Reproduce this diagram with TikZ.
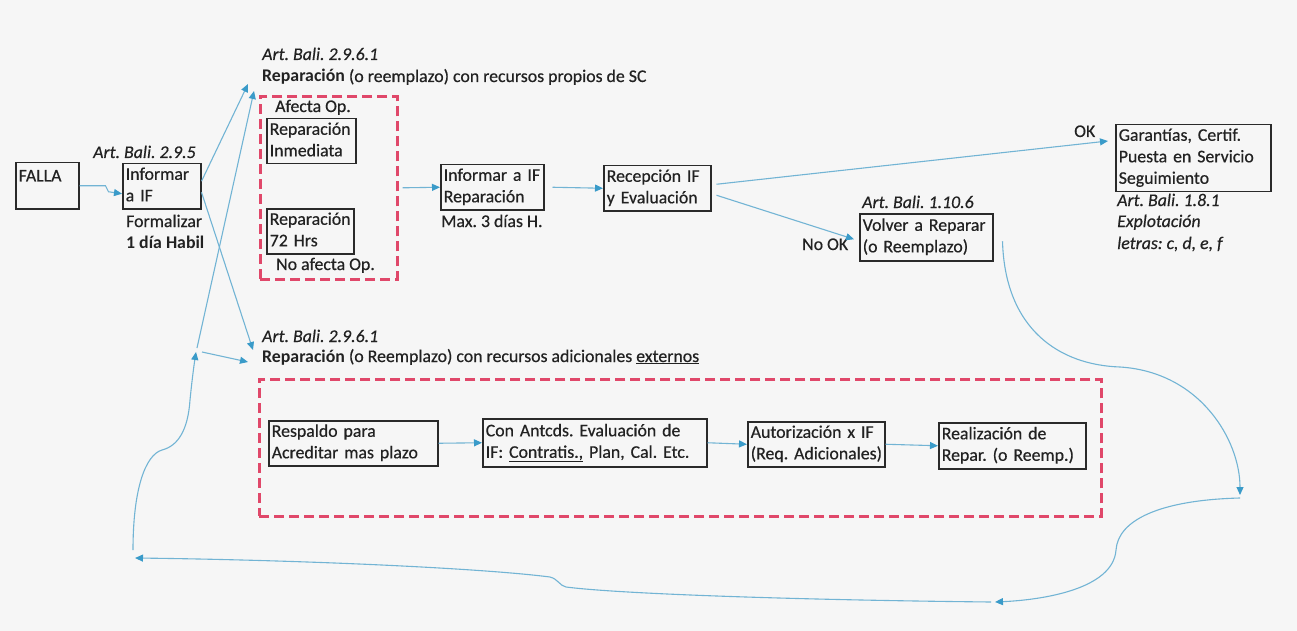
\documentclass[tikz,border=0pt]{standalone}
\usepackage{fontspec}
\setmainfont{Carlito}[UprightFeatures={FakeBold=0.5},ItalicFeatures={FakeBold=0.5}]
\usetikzlibrary{arrows.meta}
\definecolor{bg}{HTML}{F6F6F6}
\definecolor{txt}{HTML}{222222}
\definecolor{boxc}{HTML}{2A2A2A}
\definecolor{arrc}{HTML}{72B4D4}
\definecolor{arrh}{HTML}{3A9BC9}
\definecolor{dred}{HTML}{E0486A}
\newcommand{\boxlines}[1]{\begin{tabular}{@{}l@{}}#1\end{tabular}}
\frenchspacing
\tikzset{
  lbl/.style={font=\fontsize{17.8}{21.5}\selectfont, text=txt, inner sep=0pt, anchor=base west},
  box/.style={draw=boxc, line width=1.5pt, font=\fontsize{17.8}{21.5}\selectfont, text=txt,
              align=left, inner xsep=3pt, inner ysep=1pt, anchor=north west},
  dbox/.style={draw=dred, line width=2.6pt, dash pattern=on 10pt off 5pt,
               anchor=north west, inner sep=0pt},
  conn/.style={draw=arrc, line width=1.1pt,
               -{Triangle[length=8pt,width=7pt,fill=arrh,color=arrh]}},
}
\begin{document}
\begin{tikzpicture}[x=1pt,y=-1pt]
\fill[bg] (0,0) rectangle (1297,631);
\useasboundingbox (0,0) rectangle (1297,631);

% dashed groups
\node[dbox, minimum width=137pt, minimum height=183pt] (tdash) at (259,95) {};
\node[dbox, minimum width=842pt, minimum height=137pt] (bdash) at (258,378) {};

% boxes
\node[box, text width=57pt, minimum height=46pt, text depth=20pt] (falla) at (15,162) {FALLA};
\node[box, text width=72pt, minimum height=41pt] (inf) at (122,163) {\boxlines{Informar\\a IF}};
\node[box, text width=83pt, minimum height=45pt] (inm) at (266,118) {\boxlines{Reparación\\Inmediata}};
\node[box, text width=81pt, minimum height=43pt] (h72) at (266,208) {\boxlines{Reparación\\72 Hrs}};
\node[box, text width=97pt, minimum height=44pt] (infrep) at (440,164) {\boxlines{Informar a IF\\Reparación}};
\node[box, text width=101pt, minimum height=45pt] (recep) at (603,165) {\boxlines{Recepción IF\\y Evaluación}};
\node[box, text width=127pt, minimum height=47pt] (volver) at (859,213) {\boxlines{Volver a Reparar\\(o Reemplazo)}};
\node[box, text width=149pt, minimum height=66pt] (gar) at (1115,124) {\boxlines{Garantías, Certif.\\Puesta en Servicio\\Seguimiento}};
\node[box, text width=163pt, minimum height=45pt] (resp) at (268,420) {\boxlines{Respaldo para\\Acreditar mas plazo}};
\node[box, text width=218pt, minimum height=48pt] (antc) at (482,418) {\boxlines{Con Antcds. Evaluación de\\IF: \underline{Contratis.,} Plan, Cal. Etc.}};
\node[box, text width=131pt, minimum height=44pt] (aut) at (747,421) {\boxlines{Autorización x IF\\(Req. Adicionales)}};
\node[box, text width=141pt, minimum height=46pt] (real) at (938,422) {\boxlines{Realización de\\Repar. (o Reemp.)}};

% labels
\node[lbl] (a295) at (93,158) {\textit{Art. Bali. 2.9.5}};
\node[lbl] (form) at (126,227) {Formalizar};
\node[lbl] (dia) at (126,248) {\textbf{1 día Habil}};
\node[lbl] (a2961a) at (262,60) {\textit{Art. Bali. 2.9.6.1}};
\node[lbl] (rep1) at (262,82) {\textbf{Reparación} (o reemplazo) con recursos propios de SC};
\node[lbl] (afecta) at (275,112) {Afecta Op.};
\node[lbl] (noaf) at (276,270) {No afecta Op.};
\node[lbl] (max3) at (441,227) {Max. 3 días H.};
\node[lbl] (ok) at (1074,137) {OK};
\node[lbl] (nook) at (802,250) {No OK};
\node[lbl] (a1106) at (862,208) {\textit{Art. Bali. 1.10.6}};
\node[lbl] (a181) at (1117,206) {\textit{Art. Bali. 1.8.1}};
\node[lbl] (expl) at (1117,227) {\textit{Explotación}};
\node[lbl] (letras) at (1117,249) {\textit{letras: c, d, e, f}};
\node[lbl] (a2961b) at (262,342) {\textit{Art. Bali. 2.9.6.1}};
\node[lbl] (rep2) at (262,362) {\textbf{Reparación} (o Reemplazo) con recursos adicionales \underline{externos}};

% junction coordinates
\coordinate (J) at (196,352);
\coordinate (L) at (135,558);
\coordinate (R1) at (1240,495);
\coordinate (R2) at (995,602);

% connectors
\draw[conn] (falla.east) -- ++(26,0) -- ++(3,6) -- ([yshift=-7.5pt]inf.west);
\draw[conn] ([yshift=5pt]inf.east) -- ([xshift=-11pt,yshift=11pt]tdash.north west);
\draw[conn] ([yshift=-6pt]inf.east) -- ([xshift=-5pt,yshift=28pt]bdash.north west);
\draw[conn] ([xshift=1pt,yshift=4pt]J) -- ([xshift=-5pt,yshift=4pt]tdash.north west);
\draw[conn] ([xshift=6pt]J) -- ([xshift=-10pt,yshift=16pt]bdash.north west);
\draw[conn] ([xshift=-2pt,yshift=8pt]L) .. controls (133,490) and (145,455) .. (162,450)
   .. controls (178,446) and (188,430) .. (190,400) .. controls (192,380) and (194,365) .. (J);

\draw[conn] ([xshift=4pt]tdash.east) -- (infrep.west);
\draw[conn] ([xshift=8pt]infrep.east) -- (recep.west);
\draw[conn] ([xshift=5pt,yshift=4pt]recep.east) -- ([xshift=-7pt,yshift=17pt]gar.west);
\draw[conn] ([xshift=5pt,yshift=-7pt]recep.east) -- ([xshift=-5pt,yshift=-2pt]volver.west);

\draw[conn] (resp.east) -- (antc.west);
\draw[conn] (antc.east) -- (aut.west);
\draw[conn] (aut.east) -- (real.west);

\draw[conn] ([xshift=9pt,yshift=-4pt]volver.east) .. controls (1005,330) and (1060,365) .. (1120,367)
   .. controls (1200,372) and (1240,440) .. (R1);
\draw[conn] ([yshift=-3pt]R1) .. controls (1160,500) and (1118,520) .. (1116,550)
   .. controls (1113,590) and (1040,600) .. (R2);
\draw[conn] ([xshift=-4pt]R2) .. controls (800,600) and (620,594) .. (566,587)
   .. controls (560,586) and (558,579) .. (550,577) .. controls (480,568) and (300,560) .. (L);
\end{tikzpicture}
\end{document}
